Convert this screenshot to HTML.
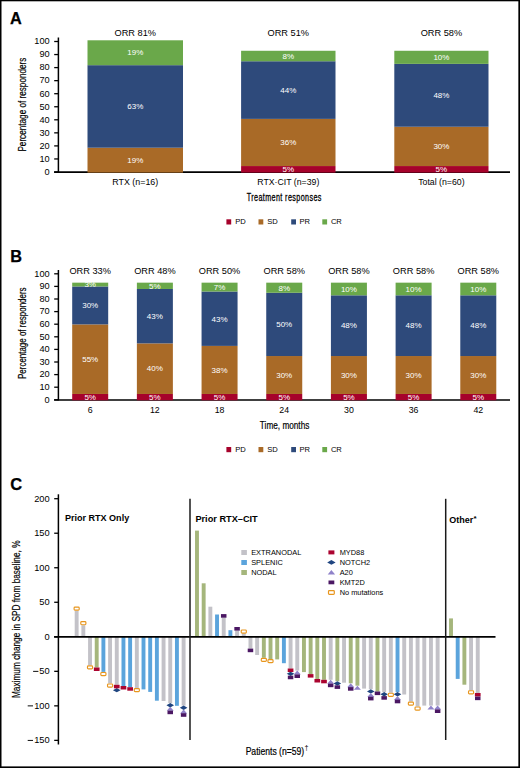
<!DOCTYPE html>
<html><head><meta charset="utf-8"><style>
html,body{margin:0;padding:0;background:#fff;}
body{width:520px;height:768px;overflow:hidden;}
svg{display:block;font-family:"Liberation Sans", sans-serif;}
</style></head><body>
<svg width="520" height="768" viewBox="0 0 520 768">
<rect x="0" y="0" width="520" height="768" fill="#fff"/>
<text x="10" y="23.8" font-size="16.3" text-anchor="start" font-weight="bold" stroke="#000" stroke-width="0.25">A</text>
<line x1="54.2" y1="172.0" x2="58.5" y2="172.0" stroke="#000" stroke-width="1.3"/>
<text x="49.7" y="174.8" font-size="9.2" text-anchor="end">0</text>
<line x1="54.2" y1="158.95" x2="58.5" y2="158.95" stroke="#000" stroke-width="1.3"/>
<text x="49.7" y="161.75" font-size="9.2" text-anchor="end">10</text>
<line x1="54.2" y1="145.9" x2="58.5" y2="145.9" stroke="#000" stroke-width="1.3"/>
<text x="49.7" y="148.70000000000002" font-size="9.2" text-anchor="end">20</text>
<line x1="54.2" y1="132.85" x2="58.5" y2="132.85" stroke="#000" stroke-width="1.3"/>
<text x="49.7" y="135.65" font-size="9.2" text-anchor="end">30</text>
<line x1="54.2" y1="119.80000000000001" x2="58.5" y2="119.80000000000001" stroke="#000" stroke-width="1.3"/>
<text x="49.7" y="122.60000000000001" font-size="9.2" text-anchor="end">40</text>
<line x1="54.2" y1="106.75" x2="58.5" y2="106.75" stroke="#000" stroke-width="1.3"/>
<text x="49.7" y="109.55" font-size="9.2" text-anchor="end">50</text>
<line x1="54.2" y1="93.7" x2="58.5" y2="93.7" stroke="#000" stroke-width="1.3"/>
<text x="49.7" y="96.5" font-size="9.2" text-anchor="end">60</text>
<line x1="54.2" y1="80.65" x2="58.5" y2="80.65" stroke="#000" stroke-width="1.3"/>
<text x="49.7" y="83.45" font-size="9.2" text-anchor="end">70</text>
<line x1="54.2" y1="67.60000000000001" x2="58.5" y2="67.60000000000001" stroke="#000" stroke-width="1.3"/>
<text x="49.7" y="70.4" font-size="9.2" text-anchor="end">80</text>
<line x1="54.2" y1="54.55000000000001" x2="58.5" y2="54.55000000000001" stroke="#000" stroke-width="1.3"/>
<text x="49.7" y="57.35000000000001" font-size="9.2" text-anchor="end">90</text>
<line x1="54.2" y1="41.5" x2="58.5" y2="41.5" stroke="#000" stroke-width="1.3"/>
<text x="49.7" y="44.3" font-size="9.2" text-anchor="end">100</text>
<line x1="58.4" y1="37.5" x2="58.4" y2="172.5" stroke="#000" stroke-width="1.5"/>
<line x1="54.1" y1="172.1" x2="510" y2="172.1" stroke="#000" stroke-width="1.7"/>
<rect x="87.50" y="147.71" width="95.50" height="24.89" fill="#a96a27"/>
<rect x="87.50" y="65.18" width="95.50" height="82.53" fill="#2e4a7b"/>
<rect x="87.50" y="40.29" width="95.50" height="24.89" fill="#6aa84a"/>
<text x="135.25" y="162.905" font-size="8" text-anchor="middle" fill="#fff">19%</text>
<text x="135.25" y="109.195" font-size="8" text-anchor="middle" fill="#fff">63%</text>
<text x="135.25" y="55.484999999999985" font-size="8" text-anchor="middle" fill="#fff">19%</text>
<text x="135.25" y="36.4" font-size="9.3" text-anchor="middle" textLength="41.5" lengthAdjust="spacingAndGlyphs">ORR 81%</text>
<text x="135.25" y="184.8" font-size="8.8" text-anchor="middle" textLength="46" lengthAdjust="spacingAndGlyphs">RTX (n=16)</text>
<rect x="241.10" y="166.05" width="94.40" height="6.55" fill="#a6022b"/>
<rect x="241.10" y="118.89" width="94.40" height="47.16" fill="#a96a27"/>
<rect x="241.10" y="61.25" width="94.40" height="57.64" fill="#2e4a7b"/>
<rect x="241.10" y="50.77" width="94.40" height="10.48" fill="#6aa84a"/>
<text x="288.3" y="172.075" font-size="8" text-anchor="middle" fill="#fff">5%</text>
<text x="288.3" y="145.22" font-size="8" text-anchor="middle" fill="#fff">36%</text>
<text x="288.3" y="92.82" font-size="8" text-anchor="middle" fill="#fff">44%</text>
<text x="288.3" y="58.75999999999999" font-size="8" text-anchor="middle" fill="#fff">8%</text>
<text x="288.3" y="36.4" font-size="9.3" text-anchor="middle" textLength="41.5" lengthAdjust="spacingAndGlyphs">ORR 51%</text>
<text x="288.3" y="184.8" font-size="8.8" text-anchor="middle" textLength="62" lengthAdjust="spacingAndGlyphs">RTX·CIT (n=39)</text>
<rect x="394.30" y="166.05" width="94.20" height="6.55" fill="#a6022b"/>
<rect x="394.30" y="126.75" width="94.20" height="39.30" fill="#a96a27"/>
<rect x="394.30" y="63.87" width="94.20" height="62.88" fill="#2e4a7b"/>
<rect x="394.30" y="50.77" width="94.20" height="13.10" fill="#6aa84a"/>
<text x="441.40000000000003" y="172.075" font-size="8" text-anchor="middle" fill="#fff">5%</text>
<text x="441.40000000000003" y="149.14999999999998" font-size="8" text-anchor="middle" fill="#fff">30%</text>
<text x="441.40000000000003" y="98.05999999999999" font-size="8" text-anchor="middle" fill="#fff">48%</text>
<text x="441.40000000000003" y="60.06999999999999" font-size="8" text-anchor="middle" fill="#fff">10%</text>
<text x="441.40000000000003" y="36.4" font-size="9.3" text-anchor="middle" textLength="41.5" lengthAdjust="spacingAndGlyphs">ORR 58%</text>
<text x="441.40000000000003" y="184.8" font-size="8.8" text-anchor="middle" textLength="46.4" lengthAdjust="spacingAndGlyphs">Total (n=60)</text>
<text transform="translate(284.1,201.1) scale(0.68,1)" x="-55.00" y="0" font-size="10.6" letter-spacing="0.569" stroke="#000" stroke-width="0.29">Treatment responses</text>
<rect x="226.40" y="219.30" width="4.80" height="5.20" fill="#a6022b"/>
<text x="235.3" y="224.1" font-size="7.6" text-anchor="start">PD</text>
<rect x="258.50" y="219.30" width="4.80" height="5.20" fill="#a96a27"/>
<text x="267.2" y="224.1" font-size="7.6" text-anchor="start">SD</text>
<rect x="291.20" y="219.30" width="4.80" height="5.20" fill="#2e4a7b"/>
<text x="299.5" y="224.1" font-size="7.6" text-anchor="start">PR</text>
<rect x="322.30" y="219.30" width="4.80" height="5.20" fill="#6aa84a"/>
<text x="330.9" y="224.1" font-size="7.6" text-anchor="start">CR</text>
<text transform="translate(25.6,104.6) rotate(-90)" x="0" y="0" font-size="11.2" text-anchor="middle" textLength="94" lengthAdjust="spacingAndGlyphs" stroke="#000" stroke-width="0.2">Percentage of responders</text>
<text x="10.2" y="261.9" font-size="16.3" text-anchor="start" font-weight="bold" stroke="#000" stroke-width="0.25">B</text>
<line x1="54.2" y1="399.8" x2="58.5" y2="399.8" stroke="#000" stroke-width="1.3"/>
<text x="49.7" y="402.6" font-size="9.2" text-anchor="end">0</text>
<line x1="54.2" y1="387.2" x2="58.5" y2="387.2" stroke="#000" stroke-width="1.3"/>
<text x="49.7" y="390.0" font-size="9.2" text-anchor="end">10</text>
<line x1="54.2" y1="374.6" x2="58.5" y2="374.6" stroke="#000" stroke-width="1.3"/>
<text x="49.7" y="377.40000000000003" font-size="9.2" text-anchor="end">20</text>
<line x1="54.2" y1="362.0" x2="58.5" y2="362.0" stroke="#000" stroke-width="1.3"/>
<text x="49.7" y="364.8" font-size="9.2" text-anchor="end">30</text>
<line x1="54.2" y1="349.40000000000003" x2="58.5" y2="349.40000000000003" stroke="#000" stroke-width="1.3"/>
<text x="49.7" y="352.20000000000005" font-size="9.2" text-anchor="end">40</text>
<line x1="54.2" y1="336.8" x2="58.5" y2="336.8" stroke="#000" stroke-width="1.3"/>
<text x="49.7" y="339.6" font-size="9.2" text-anchor="end">50</text>
<line x1="54.2" y1="324.20000000000005" x2="58.5" y2="324.20000000000005" stroke="#000" stroke-width="1.3"/>
<text x="49.7" y="327.00000000000006" font-size="9.2" text-anchor="end">60</text>
<line x1="54.2" y1="311.6" x2="58.5" y2="311.6" stroke="#000" stroke-width="1.3"/>
<text x="49.7" y="314.40000000000003" font-size="9.2" text-anchor="end">70</text>
<line x1="54.2" y1="299.0" x2="58.5" y2="299.0" stroke="#000" stroke-width="1.3"/>
<text x="49.7" y="301.8" font-size="9.2" text-anchor="end">80</text>
<line x1="54.2" y1="286.4" x2="58.5" y2="286.4" stroke="#000" stroke-width="1.3"/>
<text x="49.7" y="289.2" font-size="9.2" text-anchor="end">90</text>
<line x1="54.2" y1="273.8" x2="58.5" y2="273.8" stroke="#000" stroke-width="1.3"/>
<text x="49.7" y="276.6" font-size="9.2" text-anchor="end">100</text>
<line x1="58.4" y1="270" x2="58.4" y2="400.4" stroke="#000" stroke-width="1.5"/>
<line x1="54.1" y1="400.0" x2="510" y2="400.0" stroke="#000" stroke-width="1.7"/>
<rect x="72.20" y="393.98" width="36.00" height="6.32" fill="#a6022b"/>
<rect x="72.20" y="324.40" width="36.00" height="69.57" fill="#a96a27"/>
<rect x="72.20" y="286.45" width="36.00" height="37.95" fill="#2e4a7b"/>
<rect x="72.20" y="282.66" width="36.00" height="3.79" fill="#6aa84a"/>
<text x="90.2" y="399.9375" font-size="8" text-anchor="middle" fill="#fff">5%</text>
<text x="90.2" y="361.9875" font-size="8" text-anchor="middle" fill="#fff">55%</text>
<text x="90.2" y="308.225" font-size="8" text-anchor="middle" fill="#fff">30%</text>
<text x="90.2" y="287.3525" font-size="8" text-anchor="middle" fill="#fff">3%</text>
<text x="90.2" y="274.2" font-size="9.3" text-anchor="middle" textLength="41.5" lengthAdjust="spacingAndGlyphs">ORR 33%</text>
<text x="90.2" y="412.6" font-size="8.8" text-anchor="middle">6</text>
<rect x="136.88" y="393.98" width="36.00" height="6.32" fill="#a6022b"/>
<rect x="136.88" y="343.38" width="36.00" height="50.60" fill="#a96a27"/>
<rect x="136.88" y="288.98" width="36.00" height="54.39" fill="#2e4a7b"/>
<rect x="136.88" y="282.66" width="36.00" height="6.32" fill="#6aa84a"/>
<text x="154.88" y="399.9375" font-size="8" text-anchor="middle" fill="#fff">5%</text>
<text x="154.88" y="371.475" font-size="8" text-anchor="middle" fill="#fff">40%</text>
<text x="154.88" y="318.9775" font-size="8" text-anchor="middle" fill="#fff">43%</text>
<text x="154.88" y="288.6175" font-size="8" text-anchor="middle" fill="#fff">5%</text>
<text x="154.88" y="274.2" font-size="9.3" text-anchor="middle" textLength="41.5" lengthAdjust="spacingAndGlyphs">ORR 48%</text>
<text x="154.88" y="412.6" font-size="8.8" text-anchor="middle">12</text>
<rect x="201.56" y="393.98" width="36.00" height="6.32" fill="#a6022b"/>
<rect x="201.56" y="345.91" width="36.00" height="48.07" fill="#a96a27"/>
<rect x="201.56" y="291.51" width="36.00" height="54.39" fill="#2e4a7b"/>
<rect x="201.56" y="282.66" width="36.00" height="8.85" fill="#6aa84a"/>
<text x="219.56" y="399.9375" font-size="8" text-anchor="middle" fill="#fff">5%</text>
<text x="219.56" y="372.74" font-size="8" text-anchor="middle" fill="#fff">38%</text>
<text x="219.56" y="321.50750000000005" font-size="8" text-anchor="middle" fill="#fff">43%</text>
<text x="219.56" y="289.88250000000005" font-size="8" text-anchor="middle" fill="#fff">7%</text>
<text x="219.56" y="274.2" font-size="9.3" text-anchor="middle" textLength="41.5" lengthAdjust="spacingAndGlyphs">ORR 50%</text>
<text x="219.56" y="412.6" font-size="8.8" text-anchor="middle">18</text>
<rect x="266.24" y="393.98" width="36.00" height="6.32" fill="#a6022b"/>
<rect x="266.24" y="356.03" width="36.00" height="37.95" fill="#a96a27"/>
<rect x="266.24" y="292.78" width="36.00" height="63.25" fill="#2e4a7b"/>
<rect x="266.24" y="282.66" width="36.00" height="10.12" fill="#6aa84a"/>
<text x="284.24" y="399.9375" font-size="8" text-anchor="middle" fill="#fff">5%</text>
<text x="284.24" y="377.8" font-size="8" text-anchor="middle" fill="#fff">30%</text>
<text x="284.24" y="327.20000000000005" font-size="8" text-anchor="middle" fill="#fff">50%</text>
<text x="284.24" y="290.51500000000004" font-size="8" text-anchor="middle" fill="#fff">8%</text>
<text x="284.24" y="274.2" font-size="9.3" text-anchor="middle" textLength="41.5" lengthAdjust="spacingAndGlyphs">ORR 58%</text>
<text x="284.24" y="412.6" font-size="8.8" text-anchor="middle">24</text>
<rect x="330.92" y="393.98" width="36.00" height="6.32" fill="#a6022b"/>
<rect x="330.92" y="356.03" width="36.00" height="37.95" fill="#a96a27"/>
<rect x="330.92" y="295.31" width="36.00" height="60.72" fill="#2e4a7b"/>
<rect x="330.92" y="282.66" width="36.00" height="12.65" fill="#6aa84a"/>
<text x="348.92" y="399.9375" font-size="8" text-anchor="middle" fill="#fff">5%</text>
<text x="348.92" y="377.8" font-size="8" text-anchor="middle" fill="#fff">30%</text>
<text x="348.92" y="328.46500000000003" font-size="8" text-anchor="middle" fill="#fff">48%</text>
<text x="348.92" y="291.78000000000003" font-size="8" text-anchor="middle" fill="#fff">10%</text>
<text x="348.92" y="274.2" font-size="9.3" text-anchor="middle" textLength="41.5" lengthAdjust="spacingAndGlyphs">ORR 58%</text>
<text x="348.92" y="412.6" font-size="8.8" text-anchor="middle">30</text>
<rect x="395.60" y="393.98" width="36.00" height="6.32" fill="#a6022b"/>
<rect x="395.60" y="356.03" width="36.00" height="37.95" fill="#a96a27"/>
<rect x="395.60" y="295.31" width="36.00" height="60.72" fill="#2e4a7b"/>
<rect x="395.60" y="282.66" width="36.00" height="12.65" fill="#6aa84a"/>
<text x="413.6" y="399.9375" font-size="8" text-anchor="middle" fill="#fff">5%</text>
<text x="413.6" y="377.8" font-size="8" text-anchor="middle" fill="#fff">30%</text>
<text x="413.6" y="328.46500000000003" font-size="8" text-anchor="middle" fill="#fff">48%</text>
<text x="413.6" y="291.78000000000003" font-size="8" text-anchor="middle" fill="#fff">10%</text>
<text x="413.6" y="274.2" font-size="9.3" text-anchor="middle" textLength="41.5" lengthAdjust="spacingAndGlyphs">ORR 58%</text>
<text x="413.6" y="412.6" font-size="8.8" text-anchor="middle">36</text>
<rect x="460.28" y="393.98" width="36.00" height="6.32" fill="#a6022b"/>
<rect x="460.28" y="356.03" width="36.00" height="37.95" fill="#a96a27"/>
<rect x="460.28" y="295.31" width="36.00" height="60.72" fill="#2e4a7b"/>
<rect x="460.28" y="282.66" width="36.00" height="12.65" fill="#6aa84a"/>
<text x="478.28000000000003" y="399.9375" font-size="8" text-anchor="middle" fill="#fff">5%</text>
<text x="478.28000000000003" y="377.8" font-size="8" text-anchor="middle" fill="#fff">30%</text>
<text x="478.28000000000003" y="328.46500000000003" font-size="8" text-anchor="middle" fill="#fff">48%</text>
<text x="478.28000000000003" y="291.78000000000003" font-size="8" text-anchor="middle" fill="#fff">10%</text>
<text x="478.28000000000003" y="274.2" font-size="9.3" text-anchor="middle" textLength="41.5" lengthAdjust="spacingAndGlyphs">ORR 58%</text>
<text x="478.28000000000003" y="412.6" font-size="8.8" text-anchor="middle">42</text>
<text x="284.6" y="428.9" font-size="10.8" text-anchor="middle" textLength="49.5" lengthAdjust="spacingAndGlyphs" stroke="#000" stroke-width="0.2">Time, months</text>
<rect x="226.40" y="447.00" width="4.80" height="5.20" fill="#a6022b"/>
<text x="235.3" y="451.8" font-size="7.6" text-anchor="start">PD</text>
<rect x="258.50" y="447.00" width="4.80" height="5.20" fill="#a96a27"/>
<text x="267.2" y="451.8" font-size="7.6" text-anchor="start">SD</text>
<rect x="291.20" y="447.00" width="4.80" height="5.20" fill="#2e4a7b"/>
<text x="299.5" y="451.8" font-size="7.6" text-anchor="start">PR</text>
<rect x="322.30" y="447.00" width="4.80" height="5.20" fill="#6aa84a"/>
<text x="330.9" y="451.8" font-size="7.6" text-anchor="start">CR</text>
<text transform="translate(25.5,333.2) rotate(-90)" x="0" y="0" font-size="11.2" text-anchor="middle" textLength="91.5" lengthAdjust="spacingAndGlyphs" stroke="#000" stroke-width="0.2">Percentage of responders</text>
<text x="10.2" y="490.1" font-size="16.5" text-anchor="start" font-weight="bold" stroke="#000" stroke-width="0.25">C</text>
<line x1="54.2" y1="740.375" x2="58.5" y2="740.375" stroke="#000" stroke-width="1.3"/>
<text x="49.7" y="743.225" font-size="9.3" text-anchor="end">150</text>
<rect x="27.70" y="739.92" width="5.30" height="0.95" fill="#000"/>
<line x1="54.2" y1="705.8499999999999" x2="58.5" y2="705.8499999999999" stroke="#000" stroke-width="1.3"/>
<text x="49.7" y="708.6999999999999" font-size="9.3" text-anchor="end">100</text>
<rect x="27.70" y="705.40" width="5.30" height="0.95" fill="#000"/>
<line x1="54.2" y1="671.3249999999999" x2="58.5" y2="671.3249999999999" stroke="#000" stroke-width="1.3"/>
<text x="49.7" y="674.175" font-size="9.3" text-anchor="end">50</text>
<rect x="33.10" y="670.87" width="5.30" height="0.95" fill="#000"/>
<line x1="54.2" y1="636.8" x2="58.5" y2="636.8" stroke="#000" stroke-width="1.3"/>
<text x="49.7" y="639.65" font-size="9.3" text-anchor="end">0</text>
<line x1="54.2" y1="602.275" x2="58.5" y2="602.275" stroke="#000" stroke-width="1.3"/>
<text x="49.7" y="605.125" font-size="9.3" text-anchor="end">50</text>
<line x1="54.2" y1="567.75" x2="58.5" y2="567.75" stroke="#000" stroke-width="1.3"/>
<text x="49.7" y="570.6" font-size="9.3" text-anchor="end">100</text>
<line x1="54.2" y1="533.2249999999999" x2="58.5" y2="533.2249999999999" stroke="#000" stroke-width="1.3"/>
<text x="49.7" y="536.0749999999999" font-size="9.3" text-anchor="end">150</text>
<line x1="54.2" y1="498.69999999999993" x2="58.5" y2="498.69999999999993" stroke="#000" stroke-width="1.3"/>
<text x="49.7" y="501.54999999999995" font-size="9.3" text-anchor="end">200</text>
<line x1="58.4" y1="494.3" x2="58.4" y2="744.5" stroke="#000" stroke-width="1.5"/>
<text transform="translate(20.3,619.3) rotate(-90)" x="0" y="0" font-size="11.2" text-anchor="middle" textLength="157.6" lengthAdjust="spacingAndGlyphs" stroke="#000" stroke-width="0.2">Maximum change in SPD from baseline, %</text>
<rect x="74.70" y="610.70" width="3.90" height="26.10" fill="#c3c2c8"/>
<rect x="81.39" y="625.30" width="3.90" height="11.50" fill="#c3c2c8"/>
<rect x="88.07" y="636.80" width="3.90" height="28.50" fill="#c3c2c8"/>
<rect x="94.75" y="636.80" width="3.90" height="30.70" fill="#a5b67c"/>
<rect x="101.44" y="636.80" width="3.90" height="35.10" fill="#5ba4dc"/>
<rect x="108.12" y="636.80" width="3.90" height="46.60" fill="#c3c2c8"/>
<rect x="114.81" y="636.80" width="3.90" height="48.00" fill="#c3c2c8"/>
<rect x="121.50" y="636.80" width="3.90" height="49.20" fill="#5ba4dc"/>
<rect x="128.18" y="636.80" width="3.90" height="50.40" fill="#5ba4dc"/>
<rect x="134.87" y="636.80" width="3.90" height="51.20" fill="#c3c2c8"/>
<rect x="141.55" y="636.80" width="3.90" height="52.60" fill="#5ba4dc"/>
<rect x="148.24" y="636.80" width="3.90" height="55.10" fill="#5ba4dc"/>
<rect x="154.92" y="636.80" width="3.90" height="63.90" fill="#5ba4dc"/>
<rect x="161.61" y="636.80" width="3.90" height="64.20" fill="#c3c2c8"/>
<rect x="168.29" y="636.80" width="3.90" height="66.20" fill="#c3c2c8"/>
<rect x="174.97" y="636.80" width="3.90" height="69.00" fill="#5ba4dc"/>
<rect x="181.66" y="636.80" width="3.90" height="68.80" fill="#c3c2c8"/>
<rect x="195.03" y="530.60" width="3.90" height="106.20" fill="#a5b67c"/>
<rect x="201.71" y="583.30" width="3.90" height="53.50" fill="#a5b67c"/>
<rect x="208.40" y="606.70" width="3.90" height="30.10" fill="#c3c2c8"/>
<rect x="215.08" y="614.50" width="3.90" height="22.30" fill="#5ba4dc"/>
<rect x="221.77" y="617.70" width="3.90" height="19.10" fill="#c3c2c8"/>
<rect x="228.45" y="630.20" width="3.90" height="6.60" fill="#5ba4dc"/>
<rect x="235.14" y="630.60" width="3.90" height="6.20" fill="#c3c2c8"/>
<rect x="241.82" y="633.60" width="3.90" height="3.20" fill="#c3c2c8"/>
<rect x="248.51" y="636.80" width="3.90" height="11.80" fill="#c3c2c8"/>
<rect x="255.19" y="636.80" width="3.90" height="18.20" fill="#c3c2c8"/>
<rect x="261.88" y="636.80" width="3.90" height="21.00" fill="#a5b67c"/>
<rect x="268.56" y="636.80" width="3.90" height="22.20" fill="#a5b67c"/>
<rect x="275.25" y="636.80" width="3.90" height="22.60" fill="#a5b67c"/>
<rect x="281.94" y="636.80" width="3.90" height="26.40" fill="#5ba4dc"/>
<rect x="288.62" y="636.80" width="3.90" height="31.70" fill="#c3c2c8"/>
<rect x="295.31" y="636.80" width="3.90" height="33.80" fill="#c3c2c8"/>
<rect x="301.99" y="636.80" width="3.90" height="35.30" fill="#a5b67c"/>
<rect x="308.68" y="636.80" width="3.90" height="37.30" fill="#a5b67c"/>
<rect x="315.36" y="636.80" width="3.90" height="42.20" fill="#a5b67c"/>
<rect x="322.05" y="636.80" width="3.90" height="43.00" fill="#a5b67c"/>
<rect x="328.73" y="636.80" width="3.90" height="43.00" fill="#c3c2c8"/>
<rect x="335.41" y="636.80" width="3.90" height="44.50" fill="#a5b67c"/>
<rect x="342.10" y="636.80" width="3.90" height="45.90" fill="#c3c2c8"/>
<rect x="348.78" y="636.80" width="3.90" height="46.50" fill="#a5b67c"/>
<rect x="355.47" y="636.80" width="3.90" height="48.90" fill="#a5b67c"/>
<rect x="362.15" y="636.80" width="3.90" height="51.80" fill="#c3c2c8"/>
<rect x="368.84" y="636.80" width="3.90" height="52.40" fill="#c3c2c8"/>
<rect x="375.52" y="636.80" width="3.90" height="54.70" fill="#a5b67c"/>
<rect x="382.21" y="636.80" width="3.90" height="55.30" fill="#c3c2c8"/>
<rect x="388.89" y="636.80" width="3.90" height="55.90" fill="#c3c2c8"/>
<rect x="395.58" y="636.80" width="3.90" height="55.30" fill="#5ba4dc"/>
<rect x="402.26" y="636.80" width="3.90" height="57.70" fill="#c3c2c8"/>
<rect x="408.95" y="636.80" width="3.90" height="64.70" fill="#c3c2c8"/>
<rect x="415.63" y="636.80" width="3.90" height="69.60" fill="#c3c2c8"/>
<rect x="422.32" y="636.80" width="3.90" height="68.80" fill="#c3c2c8"/>
<rect x="429.00" y="636.80" width="3.90" height="68.80" fill="#c3c2c8"/>
<rect x="435.69" y="636.80" width="3.90" height="68.80" fill="#c3c2c8"/>
<rect x="449.06" y="618.40" width="3.90" height="18.40" fill="#a5b67c"/>
<rect x="455.74" y="636.80" width="3.90" height="42.10" fill="#5ba4dc"/>
<rect x="462.43" y="636.80" width="3.90" height="47.90" fill="#a5b67c"/>
<rect x="469.11" y="636.80" width="3.90" height="53.40" fill="#c3c2c8"/>
<rect x="475.80" y="636.80" width="3.90" height="56.20" fill="#c3c2c8"/>
<path d="M112.96,690.15 L116.76,687.95 L120.56,690.15 L116.76,692.35 Z" fill="#1f4580"/>
<path d="M166.44,705.20 L170.24,703.00 L174.04,705.20 L170.24,707.40 Z" fill="#1f4580"/>
<path d="M179.81,707.80 L183.61,705.60 L187.41,707.80 L183.61,710.00 Z" fill="#1f4580"/>
<path d="M286.77,673.85 L290.57,671.65 L294.37,673.85 L290.57,676.05 Z" fill="#1f4580"/>
<path d="M333.56,683.50 L337.36,681.30 L341.16,683.50 L337.36,685.70 Z" fill="#1f4580"/>
<path d="M366.99,691.40 L370.79,689.20 L374.59,691.40 L370.79,693.60 Z" fill="#1f4580"/>
<path d="M380.36,694.30 L384.16,692.10 L387.96,694.30 L384.16,696.50 Z" fill="#1f4580"/>
<path d="M393.73,694.30 L397.53,692.10 L401.33,694.30 L397.53,696.50 Z" fill="#1f4580"/>
<rect x="74.10" y="607.05" width="5.10" height="3.10" rx="0.9" fill="#fff" stroke="#e8961e" stroke-width="1.15"/>
<rect x="80.79" y="621.65" width="5.10" height="3.10" rx="0.9" fill="#fff" stroke="#e8961e" stroke-width="1.15"/>
<rect x="87.47" y="665.85" width="5.10" height="3.10" rx="0.9" fill="#fff" stroke="#e8961e" stroke-width="1.15"/>
<rect x="93.86" y="667.50" width="5.70" height="3.50" fill="#ab0430"/>
<rect x="100.84" y="672.45" width="5.10" height="3.10" rx="0.9" fill="#fff" stroke="#e8961e" stroke-width="1.15"/>
<rect x="107.53" y="683.95" width="5.10" height="3.10" rx="0.9" fill="#fff" stroke="#e8961e" stroke-width="1.15"/>
<rect x="113.91" y="684.80" width="5.70" height="3.50" fill="#ab0430"/>
<rect x="120.60" y="686.00" width="5.70" height="3.50" fill="#ab0430"/>
<rect x="127.28" y="687.20" width="5.70" height="3.50" fill="#ab0430"/>
<rect x="134.27" y="688.55" width="5.10" height="3.10" rx="0.9" fill="#fff" stroke="#e8961e" stroke-width="1.15"/>
<path d="M166.74,710.80 L170.24,706.80 L173.74,710.80 Z" fill="#8f82c9"/>
<rect x="167.49" y="710.60" width="5.50" height="3.60" fill="#4b1763"/>
<path d="M180.11,713.40 L183.61,709.40 L187.11,713.40 Z" fill="#8f82c9"/>
<rect x="180.86" y="713.20" width="5.50" height="3.60" fill="#4b1763"/>
<rect x="220.97" y="614.10" width="5.50" height="3.60" fill="#4b1763"/>
<rect x="234.34" y="627.00" width="5.50" height="3.60" fill="#4b1763"/>
<rect x="241.22" y="629.95" width="5.10" height="3.10" rx="0.9" fill="#fff" stroke="#e8961e" stroke-width="1.15"/>
<rect x="247.71" y="648.60" width="5.50" height="3.60" fill="#4b1763"/>
<rect x="261.28" y="658.35" width="5.10" height="3.10" rx="0.9" fill="#fff" stroke="#e8961e" stroke-width="1.15"/>
<rect x="267.96" y="659.55" width="5.10" height="3.10" rx="0.9" fill="#fff" stroke="#e8961e" stroke-width="1.15"/>
<rect x="287.72" y="668.50" width="5.70" height="3.50" fill="#ab0430"/>
<rect x="287.82" y="675.65" width="5.50" height="3.60" fill="#4b1763"/>
<path d="M293.75,674.60 L297.25,670.60 L300.75,674.60 Z" fill="#8f82c9"/>
<rect x="294.50" y="674.40" width="5.50" height="3.60" fill="#4b1763"/>
<rect x="307.77" y="674.10" width="5.70" height="3.50" fill="#ab0430"/>
<rect x="314.46" y="679.00" width="5.70" height="3.50" fill="#ab0430"/>
<rect x="321.14" y="679.80" width="5.70" height="3.50" fill="#ab0430"/>
<path d="M327.18,683.80 L330.68,679.80 L334.18,683.80 Z" fill="#8f82c9"/>
<rect x="327.93" y="683.60" width="5.50" height="3.60" fill="#4b1763"/>
<rect x="334.61" y="685.30" width="5.50" height="3.60" fill="#4b1763"/>
<path d="M347.23,687.30 L350.73,683.30 L354.23,687.30 Z" fill="#8f82c9"/>
<rect x="347.98" y="687.10" width="5.50" height="3.60" fill="#4b1763"/>
<path d="M353.92,689.70 L357.42,685.70 L360.92,689.70 Z" fill="#8f82c9"/>
<path d="M367.29,697.00 L370.79,693.00 L374.29,697.00 Z" fill="#8f82c9"/>
<rect x="368.04" y="696.80" width="5.50" height="3.60" fill="#4b1763"/>
<rect x="374.72" y="691.50" width="5.50" height="3.60" fill="#4b1763"/>
<rect x="381.41" y="696.10" width="5.50" height="3.60" fill="#4b1763"/>
<rect x="388.29" y="693.25" width="5.10" height="3.10" rx="0.9" fill="#fff" stroke="#e8961e" stroke-width="1.15"/>
<path d="M394.03,699.90 L397.53,695.90 L401.03,699.90 Z" fill="#8f82c9"/>
<rect x="394.78" y="699.70" width="5.50" height="3.60" fill="#4b1763"/>
<rect x="408.35" y="702.05" width="5.10" height="3.10" rx="0.9" fill="#fff" stroke="#e8961e" stroke-width="1.15"/>
<rect x="415.03" y="706.95" width="5.10" height="3.10" rx="0.9" fill="#fff" stroke="#e8961e" stroke-width="1.15"/>
<path d="M427.45,709.60 L430.95,705.60 L434.45,709.60 Z" fill="#8f82c9"/>
<path d="M434.14,709.60 L437.64,705.60 L441.14,709.60 Z" fill="#8f82c9"/>
<rect x="434.89" y="709.40" width="5.50" height="3.60" fill="#4b1763"/>
<rect x="468.51" y="690.75" width="5.10" height="3.10" rx="0.9" fill="#fff" stroke="#e8961e" stroke-width="1.15"/>
<rect x="474.90" y="693.00" width="5.70" height="3.50" fill="#ab0430"/>
<rect x="475.00" y="696.55" width="5.50" height="3.60" fill="#4b1763"/>
<line x1="54.1" y1="636.8" x2="495.5" y2="636.8" stroke="#000" stroke-width="1.7"/>
<line x1="190.0" y1="498.8" x2="190.0" y2="740" stroke="#1a1a1a" stroke-width="1.5"/>
<line x1="445.7" y1="498.8" x2="445.7" y2="740" stroke="#1a1a1a" stroke-width="1.5"/>
<text x="64.9" y="521.4" font-size="9" text-anchor="start" font-weight="bold" textLength="64.3" lengthAdjust="spacingAndGlyphs">Prior RTX Only</text>
<text x="195.4" y="522.3" font-size="9" text-anchor="start" font-weight="bold" textLength="62.3" lengthAdjust="spacingAndGlyphs">Prior RTX–CIT</text>
<text x="449.2" y="522.8" font-size="9" text-anchor="start" font-weight="bold">Other</text>
<text x="473.4" y="521.1" font-size="8" text-anchor="start" font-weight="bold">*</text>
<rect x="241.30" y="550.00" width="5.60" height="5.00" fill="#c3c2c8"/>
<text x="251.2" y="554.7" font-size="7.4" text-anchor="start">EXTRANODAL</text>
<rect x="241.30" y="560.00" width="5.60" height="5.00" fill="#5ba4dc"/>
<text x="251.2" y="564.7" font-size="7.4" text-anchor="start">SPLENIC</text>
<rect x="241.30" y="570.00" width="5.60" height="5.00" fill="#a5b67c"/>
<text x="251.2" y="574.7" font-size="7.4" text-anchor="start">NODAL</text>
<rect x="328.4" y="550.4" width="6.0" height="4.0" fill="#ab0430"/>
<text x="339.7" y="554.7" font-size="7.4" text-anchor="start">MYD88</text>
<path d="M327.2,562.4 L331.4,560.0 L335.59999999999997,562.4 L331.4,564.8 Z" fill="#1f4580"/>
<text x="339.7" y="564.7" font-size="7.4" text-anchor="start">NOTCH2</text>
<path d="M327.7,574.5 L331.4,570.1 L335.09999999999997,574.5 Z" fill="#8f82c9"/>
<text x="339.7" y="574.7" font-size="7.4" text-anchor="start">A20</text>
<rect x="328.5" y="580.5" width="5.8" height="3.8" fill="#4b1763"/>
<text x="339.7" y="584.7" font-size="7.4" text-anchor="start">KMT2D</text>
<rect x="328.5" y="590.6" width="5.8" height="3.8" rx="0.8" fill="#fff" stroke="#e8961e" stroke-width="1.2"/>
<text x="339.7" y="594.7" font-size="7.4" text-anchor="start">No mutations</text>
<text x="274.9" y="754.8" font-size="10.4" text-anchor="middle" textLength="58.5" lengthAdjust="spacingAndGlyphs" stroke="#000" stroke-width="0.2">Patients (n=59)</text>
<text x="304.6" y="750.2" font-size="7.2" text-anchor="start">†</text>
<rect x="0" y="0" width="1.5" height="768" fill="#000"/>
<rect x="0" y="0" width="520" height="1.3" fill="#000"/>
<rect x="518.35" y="0" width="1.65" height="768" fill="#000"/>
<rect x="0" y="766.4" width="520" height="1.6" fill="#000"/>
</svg>
</body></html>
